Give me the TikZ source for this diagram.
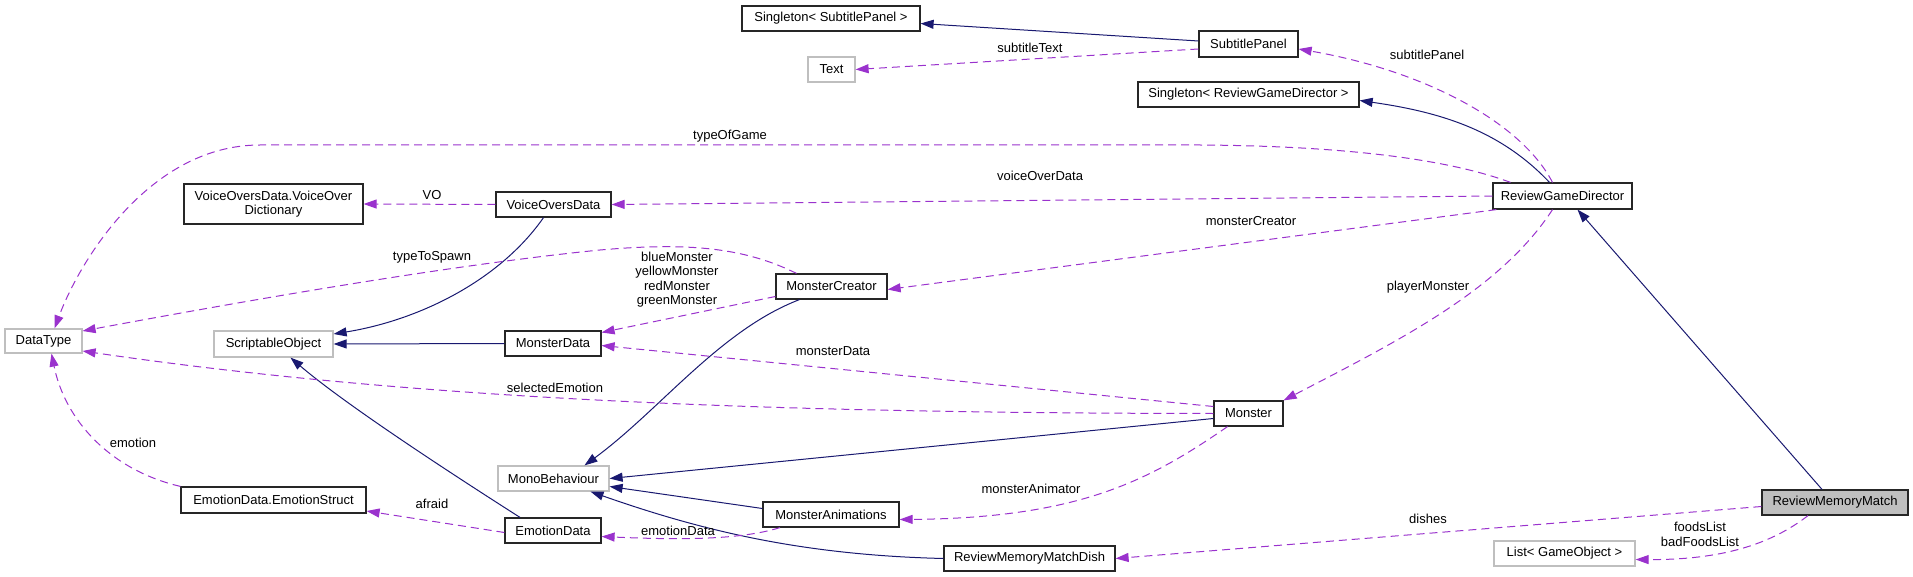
\documentclass[tikz,border=0pt]{standalone}
\usepackage{fontspec}
\setmainfont{Liberation Sans}
\usepackage{tikz}
\usetikzlibrary{arrows.meta}
\usepackage{xcolor}
\definecolor{mynavy}{RGB}{25,25,112}
\definecolor{myorchid}{RGB}{154,50,205}
\definecolor{mygray}{RGB}{191,191,191}

\begin{document}
\begin{tikzpicture}[x=1pt, y=-1pt, >={Triangle[length=13pt,width=9pt]},
  cls/.style={draw=black!85, line width=1.2pt, fill=white, inner sep=0pt, minimum height=25pt, font=\fontsize{13}{14.5}\selectfont},
  ext/.style={cls, draw=mygray},
  cur/.style={cls, fill=mygray},
  inh/.style={mynavy, line width=1pt, ->},
  uses/.style={myorchid, line width=1pt, dash pattern=on 8pt off 5pt, ->},
  lbl/.style={font=\fontsize{13}{14.5}\selectfont, align=center, inner sep=0pt}]
  \useasboundingbox (0,0) rectangle (1913,577);
  % classes
  \node[cls, minimum width=178pt] (singsp) at (831,18.5) {Singleton< SubtitlePanel >};
  \node[ext, minimum width=47pt] (text) at (831.5,69.5) {Text};
  \node[cls, minimum width=99pt, minimum height=26pt] (sub) at (1248.5,44) {SubtitlePanel};
  \node[cls, minimum width=221pt] (singrgd) at (1248.5,94.5) {Singleton< ReviewGameDirector >};
  \node[cls, minimum width=139pt, minimum height=26pt] (rgd) at (1562.5,196) {ReviewGameDirector};
  \node[cls, minimum width=179pt, minimum height=40pt, align=center] (vod) at (273.5,204) {VoiceOversData.VoiceOver\\Dictionary};
  \node[cls, minimum width=115pt] (vodata) at (553.5,204.5) {VoiceOversData};
  \node[cls, minimum width=111pt] (mc) at (831.5,286.5) {MonsterCreator};
  \node[ext, minimum width=77pt, minimum height=24pt] (dt) at (43.5,341) {DataType};
  \node[ext, minimum width=119pt, minimum height=26pt] (so) at (273.5,344) {ScriptableObject};
  \node[cls, minimum width=96pt] (mdata) at (553,343.5) {MonsterData};
  \node[cls, minimum width=69pt] (monster) at (1248.5,413.5) {Monster};
  \node[ext, minimum width=111pt] (monob) at (553.5,478.5) {MonoBehaviour};
  \node[cls, minimum width=185pt, minimum height=26pt] (es) at (273.5,500) {EmotionData.EmotionStruct};
  \node[cls, minimum width=136pt] (manim) at (831,514.5) {MonsterAnimations};
  \node[cls, minimum width=96pt] (ed) at (553,530.5) {EmotionData};
  \node[cls, minimum width=171pt] (rmmd) at (1029.5,558.5) {ReviewMemoryMatchDish};
  \node[cur, minimum width=146pt] (rmm) at (1835,502.5) {ReviewMemoryMatch};
  \node[ext, minimum width=141pt] (list) at (1564.5,553.5) {List< GameObject >};
  % inheritance
  \draw[inh] ([yshift=3pt]sub.west) -- ([yshift=-5pt]singsp.east);
  \draw[inh] ([xshift=-13pt]rgd.north) .. controls (1500,130) and (1440,112) .. ([yshift=-6pt]singrgd.east);
  \draw[inh] ([xshift=-13pt]rmm.north) -- ([xshift=15pt]rgd.south);
  \draw[inh] ([xshift=-10pt]vodata.south) .. controls (500,280) and (420,320) .. ([yshift=10pt]so.east);
  \draw[inh] (mdata.west) -- (so.east);
  \draw[inh] ([xshift=-33pt]ed.north) .. controls (430,460) and (340,400) .. ([xshift=17pt]so.south);
  \draw[inh] ([xshift=-32pt]mc.south) .. controls (720,330) and (660,410) .. ([xshift=31pt]monob.north);
  \draw[inh] ([yshift=-5pt]monster.west) -- (monob.east);
  \draw[inh] ([yshift=6pt]manim.west) -- ([yshift=-8pt]monob.east);
  \draw[inh] (rmmd.west) .. controls (800,555) and (700,530) .. ([xshift=37pt]monob.south);
  % usage
  \draw[uses] ([yshift=-5pt]sub.west) -- (text.east);
  \draw[uses] ([xshift=-10pt]rgd.north) .. controls (1520,120) and (1420,70) .. ([yshift=-5pt]sub.east);
  \draw[uses] ([xshift=-52pt]rgd.north) .. controls (1450,160) and (1350,146) .. (1200,145) -- (260,145) .. controls (150,145) and (80,260) .. ([xshift=11pt]dt.north);
  \draw[uses] (rgd.west) -- (vodata.east);
  \draw[uses] ([xshift=4pt]rgd.south west) -- ([yshift=-3pt]mc.east);
  \draw[uses] ([xshift=-10pt]rgd.south) .. controls (1500,290) and (1400,340) .. (monster.north east);
  \draw[uses] ([yshift=-4pt]rmm.west) -- (rmmd.east);
  \draw[uses] ([xshift=-27pt]rmm.south) .. controls (1770,545) and (1720,560) .. ([yshift=-6pt]list.east);
  \draw[uses] (vodata.west) -- (vod.east);
  \draw[uses] ([xshift=-35pt]mc.north) .. controls (745,248) and (690,242) .. (600,250) .. controls (450,265) and (250,300) .. ([yshift=10pt]dt.east);
  \draw[uses] ([yshift=-10pt]mc.west) -- ([yshift=11pt]mdata.east);
  \draw[uses] ([yshift=7pt]monster.west) -- ([yshift=-2pt]mdata.east);
  \draw[uses] (monster.west) .. controls (800,413) and (430,402) .. ([yshift=-10pt]dt.east);
  \draw[uses] ([xshift=-21pt]monster.south) .. controls (1150,480) and (1080,518) .. ([yshift=-5pt]manim.east);
  \draw[uses] ([yshift=-2pt]ed.west) -- ([yshift=-11pt]es.east);
  \draw[uses] (es.north west) .. controls (110,470) and (65,420) .. ([xshift=8pt]dt.south);
  \draw[uses] ([xshift=-51pt]manim.south) .. controls (740,540) and (680,540) .. ([yshift=-6pt]ed.east);
  % labels
  \node[lbl] (lsubtext) at (1030,48) {subtitleText};
  \node[lbl] (lsubpanel) at (1427,55) {subtitlePanel};
  \node[lbl] (ltype) at (730,136) {typeOfGame};
  \node[lbl] (lvo) at (432,195) {VO};
  \node[lbl] (lvodata) at (1040,176) {voiceOverData};
  \node[lbl] (lmc) at (1251,221) {monsterCreator};
  \node[lbl] (lspawn) at (432,257) {typeToSpawn};
  \node[lbl] (lplayer) at (1428,287) {playerMonster};
  \node[lbl] (lcolors) at (677,279.5) {blueMonster\\yellowMonster\\redMonster\\greenMonster};
  \node[lbl] (lmdata) at (833,351) {monsterData};
  \node[lbl] (lsel) at (555,388) {selectedEmotion};
  \node[lbl] (lemo) at (133,443) {emotion};
  \node[lbl] (lanim) at (1031,489) {monsterAnimator};
  \node[lbl] (lafraid) at (432,504) {afraid};
  \node[lbl] (ldishes) at (1428,519) {dishes};
  \node[lbl] (led) at (678,531) {emotionData};
  \node[lbl] (lfoods) at (1700,534.5) {foodsList\\badFoodsList};
\end{tikzpicture}
\end{document}
